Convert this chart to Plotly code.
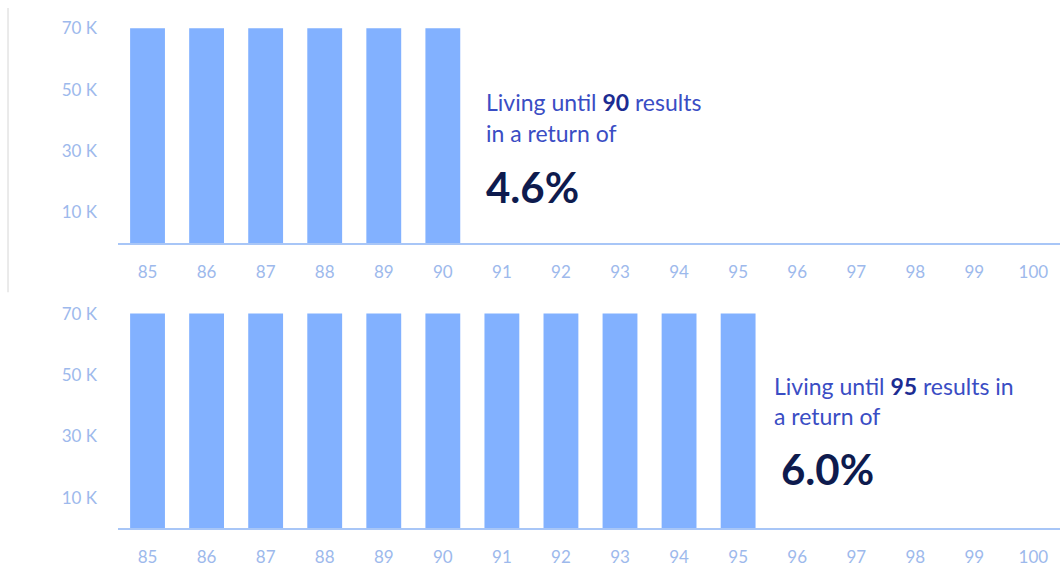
import plotly.graph_objects as go

# Ages on the horizontal axis
ages = [85, 86, 87, 88, 89, 90, 91, 92, 93, 94, 95, 96, 97, 98, 99, 100]

# Annual payments received while alive (scenario: living until 90)
payments_until_90 = [70000, 70000, 70000, 70000, 70000, 70000]
# Annual payments received while alive (scenario: living until 95)
payments_until_95 = [70000, 70000, 70000, 70000, 70000, 70000,
                     70000, 70000, 70000, 70000, 70000]

y_tick_vals = [10000, 30000, 50000, 70000]
y_tick_text = ["10 K", "30 K", "50 K", "70 K"]

returns = ["4.6%", "6.0%"]
ages_reached = [90, 95]

BAR = "#82B1FF"
TICK = "#9DB9EC"
AXIS = "#A8C6F7"
TEXT = "#3A4DC4"
TEXT_BOLD = "#1C2C92"
BIG = "#0E1B4E"
FONT = "Lato, 'Open Sans', sans-serif"

fig = go.Figure()
fig.add_trace(go.Bar(x=ages[:len(payments_until_90)], y=payments_until_90,
                     marker=dict(color=BAR, line=dict(width=0)),
                     xaxis="x", yaxis="y", showlegend=False))
fig.add_trace(go.Bar(x=ages[:len(payments_until_95)], y=payments_until_95,
                     marker=dict(color=BAR, line=dict(width=0)),
                     xaxis="x2", yaxis="y2", showlegend=False))

x_common = dict(range=[84.5, 100.45], tickvals=ages, ticktext=[str(a) for a in ages],
                showgrid=False, zeroline=False, showline=True, linecolor=AXIS,
                linewidth=2, tickfont=dict(family=FONT, size=17, color=TICK),
                ticks="", ticklabelstandoff=12, domain=[118 / 1060, 1.0])
y_common = dict(range=[0, 71000], tickvals=y_tick_vals, ticktext=y_tick_text,
                showgrid=False, zeroline=False, showline=False,
                tickfont=dict(family=FONT, size=17, color=TICK),
                ticks="", ticklabelstandoff=20)

H = 567.0
fig.update_layout(
    width=1060, height=567,
    margin=dict(l=0, r=0, t=0, b=0),
    paper_bgcolor="white", plot_bgcolor="white",
    bargap=0.41,
    xaxis=dict(**x_common, anchor="y"),
    yaxis=dict(**y_common, anchor="x", domain=[1 - 241.5 / H, 1 - 17.7 / H]),
    xaxis2=dict(**x_common, anchor="y2"),
    yaxis2=dict(**y_common, anchor="x2", domain=[1 - 534.5 / H, 1 - 310.7 / H]),
    font=dict(family=FONT),
)

# Thin divider at the left edge of the upper panel
fig.add_shape(type="line", xref="paper", yref="paper",
              x0=8 / 1060, x1=8 / 1060, y0=1.0, y1=1 - 292 / H,
              line=dict(color="#D6D6D6", width=1))

def caption(x_px, y1_px, y2_px, y3_px, x3_px, line1, line2, big):
    fig.add_annotation(xref="paper", yref="paper", x=x_px / 1060, y=1 - y1_px / H,
                       xanchor="left", yanchor="middle", showarrow=False,
                       text=line1, font=dict(family=FONT, size=23, color=TEXT))
    fig.add_annotation(xref="paper", yref="paper", x=x_px / 1060, y=1 - y2_px / H,
                       xanchor="left", yanchor="middle", showarrow=False,
                       text=line2, font=dict(family=FONT, size=23, color=TEXT))
    fig.add_annotation(xref="paper", yref="paper", x=x3_px / 1060, y=1 - y3_px / H,
                       xanchor="left", yanchor="middle", showarrow=False,
                       text=f"<b>{big}</b>", font=dict(family=FONT, size=42, color=BIG))

bold_age = lambda a: f"<b><span style='color:{TEXT_BOLD}'>{a}</span></b>"

caption(484, 96.4, 128.1, 184.3, 484,
        f"Living until {bold_age(ages_reached[0])} results",
        "in a return of", returns[0])
caption(772, 388, 418.6, 473.8, 779,
        f"Living until {bold_age(ages_reached[1])} results in",
        "a return of", returns[1])

fig.write_html("out.html")
